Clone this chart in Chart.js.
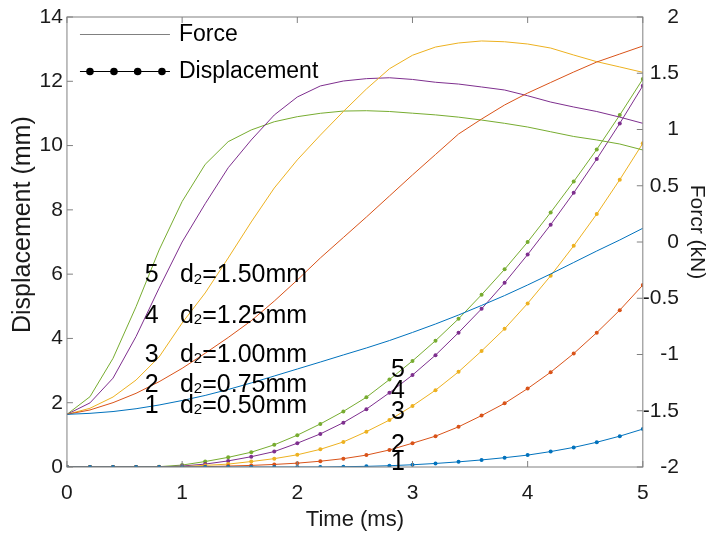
<!DOCTYPE html>
<html>
<head>
<meta charset="utf-8">
<script src="https://cdn.jsdelivr.net/npm/chart.js@4.4.1/dist/chart.umd.min.js"></script>
<style>
  html, body { margin: 0; padding: 0; background: #fff; }
  canvas { display: block; }
</style>
</head>
<body>
<canvas id="chart" width="706" height="536"></canvas>
<script>
// time axis (ms), one sample every 0.2 ms
const times = [0, 0.2, 0.4, 0.6, 0.8, 1.0, 1.2, 1.4, 1.6, 1.8, 2.0, 2.2, 2.4,
               2.6, 2.8, 3.0, 3.2, 3.4, 3.6, 3.8, 4.0, 4.2, 4.4, 4.6, 4.8, 5.0];

// displacement (mm), curves 1..5
const disp1 = [0, 0, 0, 0, 0, 0, 0, 0, 0, 0, 0, 0, 0.01, 0.02, 0.04, 0.07, 0.11,
               0.16, 0.22, 0.29, 0.37, 0.48, 0.61, 0.77, 0.96, 1.18];
const disp2 = [0, 0, 0, 0, 0, 0, 0.01, 0.03, 0.05, 0.08, 0.12, 0.18, 0.26, 0.37,
               0.53, 0.74, 0.96, 1.25, 1.6, 1.98, 2.44, 2.95, 3.53, 4.18, 4.88, 5.66];
const disp3 = [0, 0, 0, 0, 0, 0.01, 0.05, 0.09, 0.17, 0.26, 0.38, 0.55, 0.78, 1.1,
               1.46, 1.9, 2.39, 2.96, 3.61, 4.3, 5.09, 5.95, 6.88, 7.87, 8.94, 10.07];
const disp4 = [0, 0, 0, 0, 0, 0.03, 0.09, 0.19, 0.32, 0.48, 0.74, 1.03, 1.38, 1.8,
               2.31, 2.86, 3.48, 4.18, 4.92, 5.73, 6.61, 7.54, 8.53, 9.58, 10.69, 11.86];
const disp5 = [0, 0, 0, 0, 0.01, 0.06, 0.17, 0.3, 0.46, 0.69, 0.99, 1.34, 1.73, 2.17,
               2.72, 3.3, 3.93, 4.61, 5.36, 6.15, 7.0, 7.92, 8.88, 9.88, 10.95, 12.07];

// force (kN), curves 1..5
const force1 = [-1.532, -1.523, -1.507, -1.482, -1.449, -1.409, -1.364, -1.311, -1.253,
                -1.191, -1.129, -1.067, -1.004, -0.942, -0.876, -0.804, -0.729, -0.649,
                -0.564, -0.476, -0.382, -0.284, -0.182, -0.08, 0.018, 0.122];
const force2 = [-1.532, -1.493, -1.428, -1.345, -1.242, -1.123, -0.989, -0.849, -0.7,
                -0.525, -0.338, -0.142, 0.04, 0.222, 0.409, 0.596, 0.778, 0.96,
                1.093, 1.218, 1.324, 1.418, 1.511, 1.6, 1.671, 1.742];
const force3 = [-1.532, -1.478, -1.378, -1.227, -1.022, -0.72, -0.453, -0.142, 0.178,
                0.48, 0.73, 0.95, 1.16, 1.36, 1.54, 1.66, 1.733, 1.769,
                1.787, 1.78, 1.76, 1.724, 1.662, 1.603, 1.556, 1.508];
const force4 = [-1.532, -1.43, -1.21, -0.84, -0.41, 0.0, 0.34, 0.66, 0.907,
                1.129, 1.289, 1.387, 1.431, 1.452, 1.46, 1.445, 1.42, 1.404,
                1.378, 1.351, 1.3, 1.244, 1.2, 1.16, 1.11, 1.055];
const force5 = [-1.532, -1.375, -1.034, -0.575, -0.071, 0.36, 0.69, 0.892, 0.996,
                1.069, 1.114, 1.144, 1.164, 1.167, 1.16, 1.145, 1.13, 1.11,
                1.084, 1.055, 1.022, 0.98, 0.938, 0.907, 0.871, 0.818];

const caseNames = ['1', '2', '3', '4', '5'];
const gaps = ['0.50', '0.75', '1.00', '1.25', '1.50'];

const colors = ['#0072BD', '#D95319', '#EDB120', '#7E2F8E', '#77AC30'];
const FONT = '"Liberation Sans", Arial, sans-serif';
const INK = '#1a1a1a';

Chart.defaults.font.family = FONT;
Chart.defaults.color = INK;

const toPoints = (vals) => times.map((t, k) => ({x: t, y: vals[k]}));

const datasets = [];
[force1, force2, force3, force4, force5].forEach((f, i) => {
    datasets.push({
        label: 'Force ' + caseNames[i],
        data: toPoints(f),
        yAxisID: 'y2',
        borderColor: colors[i],
        borderWidth: 1,
        pointRadius: 0,
        tension: 0,
        fill: false
    });
});
[disp1, disp2, disp3, disp4, disp5].forEach((d, i) => {
    datasets.push({
        label: 'Displacement ' + caseNames[i],
        data: toPoints(d),
        yAxisID: 'y',
        borderColor: colors[i],
        backgroundColor: colors[i],
        borderWidth: 1,
        pointRadius: 2,
        pointBorderWidth: 0,
        pointStyle: 'circle',
        tension: 0,
        fill: false
    });
});

// box, inward tick marks, right axis title, legend and the text labels
const decorations = {
    id: 'decorations',
    afterDatasetsDraw(chart) {
        const {ctx, chartArea: a, scales} = chart;
        const tl = 6;
        ctx.save();
        ctx.strokeStyle = '#808080';
        ctx.lineWidth = 1;
        ctx.strokeRect(a.left, a.top, a.right - a.left, a.bottom - a.top);
        ctx.beginPath();
        scales.x.ticks.forEach(t => {
            const px = scales.x.getPixelForValue(t.value);
            ctx.moveTo(px, a.bottom); ctx.lineTo(px, a.bottom - tl);
            ctx.moveTo(px, a.top); ctx.lineTo(px, a.top + tl);
        });
        scales.y.ticks.forEach(t => {
            const py = scales.y.getPixelForValue(t.value);
            ctx.moveTo(a.left, py); ctx.lineTo(a.left + tl, py);
        });
        scales.y2.ticks.forEach(t => {
            const py = scales.y2.getPixelForValue(t.value);
            ctx.moveTo(a.right, py); ctx.lineTo(a.right - tl, py);
        });
        ctx.stroke();

        // right axis title, reading downwards
        ctx.fillStyle = INK;
        ctx.font = '21px ' + FONT;
        ctx.textAlign = 'center';
        ctx.textBaseline = 'middle';
        ctx.save();
        ctx.translate(a.right + 54, (a.top + a.bottom) / 2 - 10);
        ctx.rotate(Math.PI / 2);
        ctx.fillText('Forcr (kN)', 0, 0);
        ctx.restore();

        // legend
        const lx = a.left + 13, lw = 90;
        ctx.strokeStyle = '#808080';
        ctx.beginPath();
        ctx.moveTo(lx, a.top + 17.5); ctx.lineTo(lx + lw, a.top + 17.5);
        ctx.stroke();
        ctx.strokeStyle = '#000';
        ctx.beginPath();
        ctx.moveTo(lx, a.top + 54.5); ctx.lineTo(lx + lw, a.top + 54.5);
        ctx.stroke();
        ctx.fillStyle = '#000';
        [10, 34, 57.7, 82].forEach(dx => {
            ctx.beginPath();
            ctx.arc(lx + dx, a.top + 54.5, 3.8, 0, Math.PI * 2);
            ctx.fill();
        });
        ctx.font = '23px ' + FONT;
        ctx.textAlign = 'left';
        ctx.fillText('Force', a.left + 112, a.top + 17.5);
        ctx.fillText('Displacement', a.left + 112, a.top + 54.5);

        // case list: "5   d2=1.50mm" ...
        const rowMm = [1.904, 2.55, 3.485, 4.70, 5.96];
        const numX = scales.x.getPixelForValue(0.735);
        const txtX = scales.x.getPixelForValue(0.981);
        caseNames.forEach((name, i) => {
            const py = scales.y.getPixelForValue(rowMm[i]);
            ctx.font = '25px ' + FONT;
            ctx.textAlign = 'center';
            ctx.fillText(name, numX, py);
            ctx.textAlign = 'left';
            let x = txtX;
            ctx.fillText('d', x, py);
            x += ctx.measureText('d').width;
            ctx.font = '15px ' + FONT;
            ctx.fillText('2', x, py + 4);
            x += ctx.measureText('2').width;
            ctx.font = '25px ' + FONT;
            ctx.fillText('=' + gaps[i] + 'mm', x, py);
        });

        // curve numbers next to the displacement lines
        const tagMm = [0.124, 0.684, 1.711, 2.365, 3.018];
        const tagX = scales.x.getPixelForValue(2.873);
        ctx.font = '25px ' + FONT;
        ctx.textAlign = 'center';
        caseNames.forEach((name, i) => {
            ctx.fillText(name, tagX, scales.y.getPixelForValue(tagMm[i]));
        });
        ctx.restore();
    }
};

new Chart(document.getElementById('chart'), {
    type: 'line',
    data: { datasets: datasets },
    options: {
        responsive: false,
        animation: false,
        layout: { padding: { top: 17, left: 8, right: 27, bottom: 2.8 } },
        plugins: {
            legend: { display: false },
            tooltip: { enabled: false }
        },
        scales: {
            x: {
                type: 'linear',
                min: 0,
                max: 5,
                grid: { display: false, drawTicks: false },
                border: { display: false },
                ticks: { stepSize: 1, padding: 14, font: { size: 21 }, color: INK, maxRotation: 0 },
                title: {
                    display: true,
                    text: 'Time (ms)',
                    font: { size: 22 },
                    color: INK,
                    padding: { top: -13.4, bottom: 0 }
                }
            },
            y: {
                position: 'left',
                min: 0,
                max: 14,
                grid: { display: false, drawTicks: false },
                border: { display: false },
                ticks: { stepSize: 2, padding: 4, font: { size: 21 }, color: INK },
                title: {
                    display: true,
                    text: '     Displacement (mm)',
                    font: { size: 25 },
                    color: INK,
                    padding: { top: 0, bottom: -2.4 }
                }
            },
            y2: {
                position: 'right',
                min: -2,
                max: 2,
                grid: { display: false, drawTicks: false },
                border: { display: false },
                ticks: {
                    stepSize: 0.5,
                    padding: 0,
                    crossAlign: 'far',
                    font: { size: 21 },
                    color: INK,
                    callback: (v) => String(v)
                }
            }
        }
    },
    plugins: [decorations]
});
</script>
</body>
</html>
